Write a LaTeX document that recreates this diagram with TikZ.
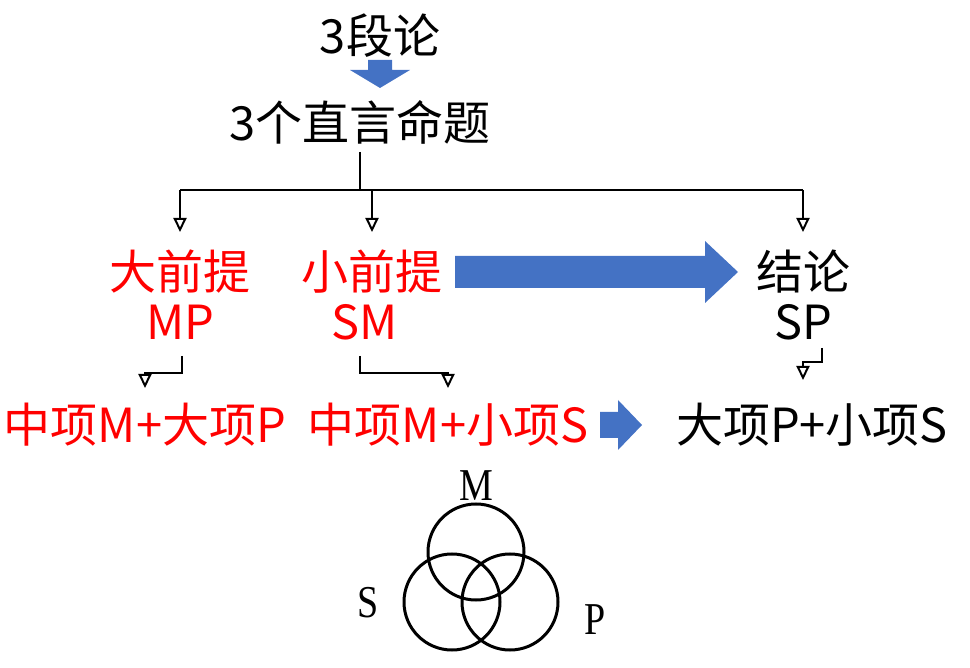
\documentclass[tikz,border=0pt]{standalone}
\usepackage{fontspec}
\setmainfont{Noto Sans CJK SC}
\newfontfamily\serifm{Liberation Serif}
\usetikzlibrary{arrows.meta}
\definecolor{arrowblue}{RGB}{68,114,196}
\begin{document}
\begin{tikzpicture}[x=1pt,y=-1pt,
  lbl/.style={inner sep=0pt,font=\fontsize{47}{49}\selectfont},
  red lbl/.style={lbl,text=red},
  conn/.style={line width=2pt,-{Triangle[open,length=14pt,width=13pt,line width=2pt]}},
  big arrow/.style={fill=arrowblue,draw=none}]
\useasboundingbox (0,0) rectangle (970,668);
% titles
\node[lbl] (syl) at (380,36) {3段论};
\node[lbl] (props) at (360,122) {3个直言命题};
\fill[arrowblue] (368,60) -- (392,60) -- (392,70) -- (410,70) -- (380,88) -- (350,70) -- (368,70) -- cycle;
% second row
\node[red lbl] (major) at (180,272) {大前提};
\node[red lbl] (majorT) at (180,322) {MP};
\node[red lbl] (minor) at (372,272) {小前提};
\node[red lbl] (minorT) at (365,322) {SM};
\node[lbl] (concl) at (803,272) {结论};
\node[lbl] (conclT) at (803,322) {SP};
% third row
\node[red lbl] (majorR) at (145,425) {中项M+大项P};
\node[red lbl] (minorR) at (448,425) {中项M+小项S};
\node[lbl] (conclR) at (812,425) {大项P+小项S};
% tree
\coordinate (split) at (360,190);
\draw[line width=2pt] (360,152) -- (split);
\draw[line width=2pt] (180,190) -- (803,190);
\draw[conn] (180,190) -- (180,232);
\draw[conn] (372,190) -- (372,232);
\draw[conn] (803,190) -- (803,232);
% elbows
\draw[conn] (182,356) |- (145,373) -- (145,388);
\draw[conn] (360,356) |- (448,373) -- (448,388);
\draw[conn] (822,348) |- (803,362) -- (803,380);
% block arrows
\fill[big arrow] (455,256) -- (705,256) -- (705,241) -- (738,272) -- (705,303) -- (705,288) -- (455,288) -- cycle;
\fill[big arrow] (600,412) -- (618,412) -- (618,400) -- (642,425) -- (618,450) -- (618,438) -- (600,438) -- cycle;
% venn
\draw[line width=3pt] (476,552) circle (48);
\draw[line width=3pt] (452,602) circle (48);
\draw[line width=3pt] (510,602) circle (48);
\node[font=\serifm\fontsize{38}{40}\selectfont,yscale=1.2] (vm) at (476,486) {M};
\node[font=\serifm\fontsize{38}{40}\selectfont,yscale=1.2] (vs) at (368,603) {S};
\node[font=\serifm\fontsize{38}{40}\selectfont,yscale=1.2] (vp) at (595,620) {P};
\end{tikzpicture}
\end{document}
